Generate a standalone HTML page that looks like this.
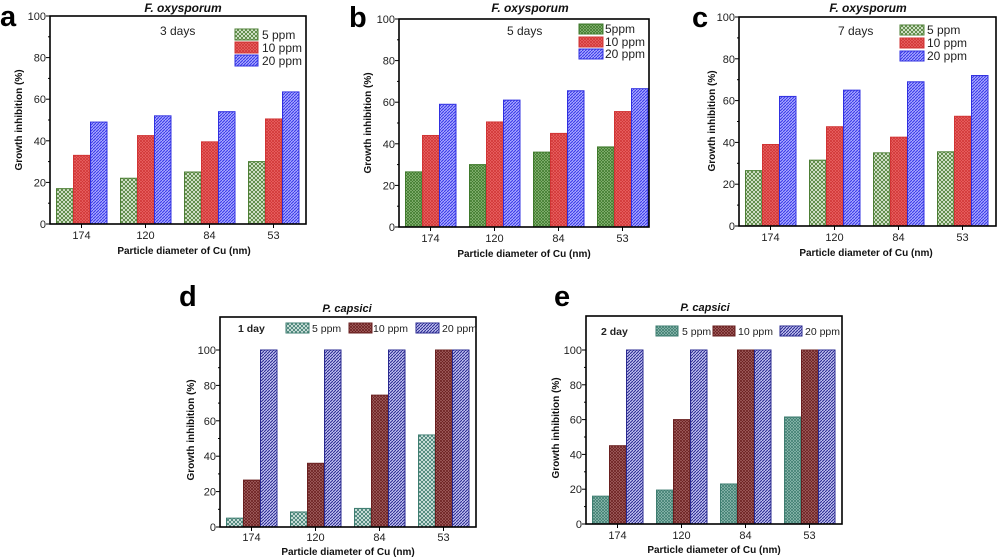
<!DOCTYPE html>
<html><head><meta charset="utf-8"><style>
body{margin:0;background:#fff}
svg{display:block;font-family:"Liberation Sans",Arial,sans-serif}
.t{font-size:11px;fill:#222}
.ax{font-size:10px;font-weight:bold;fill:#111}
.ti{font-size:12px;font-weight:bold;font-style:italic;fill:#111}
.tis{font-size:11px;font-weight:bold;font-style:italic;fill:#111}
.L{font-size:29px;font-weight:bold;fill:#000}
.lg{font-size:12px;fill:#222}
.lg2{font-size:10.5px;fill:#222}
</style></head><body>
<svg id="s" width="1000" height="558" viewBox="0 0 1000 558" xmlns="http://www.w3.org/2000/svg">
<defs>
<pattern id="pg" width="4" height="4" patternUnits="userSpaceOnUse"><rect width="4" height="4" fill="#eef5e8"/><path d="M0,0L4,4M4,0L0,4" stroke="#4d7f35" stroke-width="0.9"/></pattern>
<pattern id="pg2" width="3" height="3" patternUnits="userSpaceOnUse"><rect width="3" height="3" fill="#9cc58a"/><path d="M0,0L3,3M3,0L0,3" stroke="#3f7a2c" stroke-width="0.8"/></pattern>
<pattern id="pr" width="3" height="3" patternUnits="userSpaceOnUse"><rect width="3" height="3" fill="#f07070"/><path d="M0,0L3,3M3,0L0,3" stroke="#d03535" stroke-width="0.8"/></pattern>
<pattern id="pb" width="3" height="3" patternUnits="userSpaceOnUse"><rect width="3" height="3" fill="#a8a8ff"/><path d="M0,3L3,0" stroke="#3838e8" stroke-width="1"/></pattern>
<pattern id="pt" width="4" height="4" patternUnits="userSpaceOnUse"><rect width="4" height="4" fill="#e8f2ef"/><path d="M0,0L4,4M4,0L0,4" stroke="#3e7d70" stroke-width="0.9"/></pattern>
<pattern id="pt2" width="3" height="3" patternUnits="userSpaceOnUse"><rect width="3" height="3" fill="#a5cbc2"/><path d="M0,0L3,3M3,0L0,3" stroke="#3e7d70" stroke-width="0.8"/></pattern>
<pattern id="pm" width="3" height="3" patternUnits="userSpaceOnUse"><rect width="3" height="3" fill="#b07070"/><path d="M0,0L3,3M3,0L0,3" stroke="#6a2020" stroke-width="0.8"/></pattern>
<pattern id="pn" width="3" height="3" patternUnits="userSpaceOnUse"><rect width="3" height="3" fill="#c0c0f0"/><path d="M0,3L3,0" stroke="#2a2a90" stroke-width="1"/></pattern>
</defs>
<g id="g"></g>
<text class="L" x="0" y="26">a</text>
<text class="L" x="349" y="27">b</text>
<text class="L" x="692" y="27">c</text>
<text class="L" x="179" y="306">d</text>
<text class="L" x="554" y="306">e</text>
<text class="ti" x="183" y="12" text-anchor="middle">F. oxysporum</text>
<text class="ti" x="530" y="12" text-anchor="middle">F. oxysporum</text>
<text class="ti" x="868" y="12" text-anchor="middle">F. oxysporum</text>
<text class="tis" x="347" y="312" text-anchor="middle">P. capsici</text>
<text class="tis" x="705" y="311" text-anchor="middle">P. capsici</text>
<text class="ax" x="184" y="254" text-anchor="middle">Particle diameter of Cu (nm)</text>
<text class="ax" x="524" y="257" text-anchor="middle">Particle diameter of Cu (nm)</text>
<text class="ax" x="866" y="256" text-anchor="middle">Particle diameter of Cu (nm)</text>
<text class="ax" x="348" y="555" text-anchor="middle">Particle diameter of Cu (nm)</text>
<text class="ax" x="714" y="553" text-anchor="middle">Particle diameter of Cu (nm)</text>
<text class="ax" transform="translate(22,120) rotate(-90)" text-anchor="middle">Growth inhibition (%)</text>
<text class="ax" transform="translate(371,123) rotate(-90)" text-anchor="middle">Growth inhibition (%)</text>
<text class="ax" transform="translate(715,121) rotate(-90)" text-anchor="middle">Growth inhibition (%)</text>
<text class="ax" transform="translate(194,430) rotate(-90)" text-anchor="middle">Growth inhibition (%)</text>
<text class="ax" transform="translate(559,428) rotate(-90)" text-anchor="middle">Growth inhibition (%)</text>
<g class="t" text-anchor="end">
<text x="46" y="228">0</text><text x="46" y="186.4">20</text><text x="46" y="144.8">40</text><text x="46" y="103.2">60</text><text x="46" y="61.6">80</text><text x="46" y="20">100</text>
<text x="395" y="231">0</text><text x="395" y="189.4">20</text><text x="395" y="147.8">40</text><text x="395" y="106.2">60</text><text x="395" y="64.6">80</text><text x="395" y="23">100</text>
<text x="735" y="230">0</text><text x="735" y="188.2">20</text><text x="735" y="146.4">40</text><text x="735" y="104.6">60</text><text x="735" y="62.8">80</text><text x="735" y="21">100</text>
<text x="216" y="531">0</text><text x="216" y="495.6">20</text><text x="216" y="460.2">40</text><text x="216" y="424.8">60</text><text x="216" y="389.4">80</text><text x="216" y="354">100</text>
<text x="582" y="528">0</text><text x="582" y="493.2">20</text><text x="582" y="458.4">40</text><text x="582" y="423.6">60</text><text x="582" y="388.8">80</text><text x="582" y="354">100</text>
</g>
<g class="t" text-anchor="middle">
<text x="81.5" y="239">174</text><text x="145.5" y="239">120</text><text x="209.5" y="239">84</text><text x="273.5" y="239">53</text>
<text x="430.5" y="242">174</text><text x="494.5" y="242">120</text><text x="558.5" y="242">84</text><text x="622.5" y="242">53</text>
<text x="770.5" y="241">174</text><text x="834.5" y="241">120</text><text x="898.5" y="241">84</text><text x="962.5" y="241">53</text>
<text x="251.5" y="541">174</text><text x="315.5" y="541">120</text><text x="379.5" y="541">84</text><text x="443.5" y="541">53</text>
<text x="617.5" y="539">174</text><text x="681.5" y="539">120</text><text x="745.5" y="539">84</text><text x="809.5" y="539">53</text>
</g>
<text class="lg" x="160" y="35">3 days</text>
<text class="lg" x="262" y="39">5 ppm</text><text class="lg" x="262" y="52">10 ppm</text><text class="lg" x="262" y="65">20 ppm</text>
<text class="lg" x="507" y="35">5 days</text>
<text class="lg" x="605" y="33">5ppm</text><text class="lg" x="605" y="46">10 ppm</text><text class="lg" x="605" y="58">20 ppm</text>
<text class="lg" x="838" y="35">7 days</text>
<text class="lg" x="927" y="34">5 ppm</text><text class="lg" x="927" y="47">10 ppm</text><text class="lg" x="927" y="60">20 ppm</text>
<text class="lg2" x="238" y="332" style="font-weight:bold">1 day</text>
<text class="lg2" x="312" y="332">5 ppm</text><text class="lg2" x="373" y="332">10 ppm</text><text class="lg2" x="442" y="332">20 ppm</text>
<text class="lg2" x="601" y="335" style="font-weight:bold">2 day</text>
<text class="lg2" x="682" y="335">5 ppm</text><text class="lg2" x="738" y="335">10 ppm</text><text class="lg2" x="805" y="335">20 ppm</text>
</svg>
<script>
var g=document.getElementById('g'),NS='http://www.w3.org/2000/svg';
function el(n,a){var e=document.createElementNS(NS,n);for(var k in a)e.setAttribute(k,a[k]);g.appendChild(e);return e;}
var P=[
 {l:50,r:306,t:16,b:224,y100:16,d:[[17,22,25,30],[33,42.5,39.5,50.5],[49,52,54,63.5]],f:['pg','pr','pb'],s:['#4d7f35','#d03535','#3030e0'],lg:[[235,29],[235,42],[235,55]],lw:23,lh:11},
 {l:399,r:649,t:19,b:227,y100:19,d:[[26.5,30,36,38.5],[44,50.5,45,55.5],[59,61,65.5,66.5]],f:['pg2','pr','pb'],s:['#3f7a2c','#d03535','#3030e0'],lg:[[579,24],[579,37],[579,49]],lw:24,lh:10},
 {l:739,r:996,t:17,b:226,y100:17,d:[[26.5,31.5,35,35.5],[39,47.5,42.5,52.5],[62,65,69,72]],f:['pg','pr','pb'],s:['#4d7f35','#d03535','#3030e0'],lg:[[900,25],[900,38],[900,51]],lw:24,lh:10},
 {l:220,r:476,t:317,b:527,y100:350,d:[[5,8.5,10.5,52],[26.5,36,74.5,100],[100,100,100,100]],f:['pt','pm','pn'],s:['#3e7d70','#6a2020','#2a2a90'],lg:[[286,323],[349,323],[416,323]],lw:23,lh:10},
 {l:586,r:842,t:316,b:524,y100:350,d:[[16,19.5,23,61.5],[45,60,100,100],[100,100,100,100]],f:['pt2','pm','pn'],s:['#3e7d70','#6a2020','#2a2a90'],lg:[[656,326],[713,326],[780,326]],lw:22,lh:10}
];
P.forEach(function(p){
 var sc=(p.b-p.y100)/100;
 for(var i=0;i<4;i++)for(var j=0;j<3;j++){var v=p.d[j][i],x=p.l+6+i*64+j*17,h=v*sc;
  el('rect',{x:x+0.5,y:p.b-h,width:16.5,height:h,fill:'url(#'+p.f[j]+')',stroke:p.s[j],'stroke-width':1});}
 el('rect',{x:p.l,y:p.t,width:p.r-p.l,height:p.b-p.t,fill:'none',stroke:'#000','stroke-width':1.6});
 for(var v=0;v<=100;v+=10){var y=p.b-v*sc;el('line',{x1:p.l-(v%20?2:4),x2:p.l,y1:y,y2:y,stroke:'#000','stroke-width':1});}
 for(var i=0;i<4;i++){var x=p.l+31.5+64*i;el('line',{x1:x,x2:x,y1:p.b,y2:p.b+4,stroke:'#000','stroke-width':1});}
 p.lg.forEach(function(q,j){el('rect',{x:q[0],y:q[1],width:p.lw,height:p.lh,fill:'url(#'+p.f[j]+')',stroke:p.s[j],'stroke-width':1});});
});
</script>
</body></html>
